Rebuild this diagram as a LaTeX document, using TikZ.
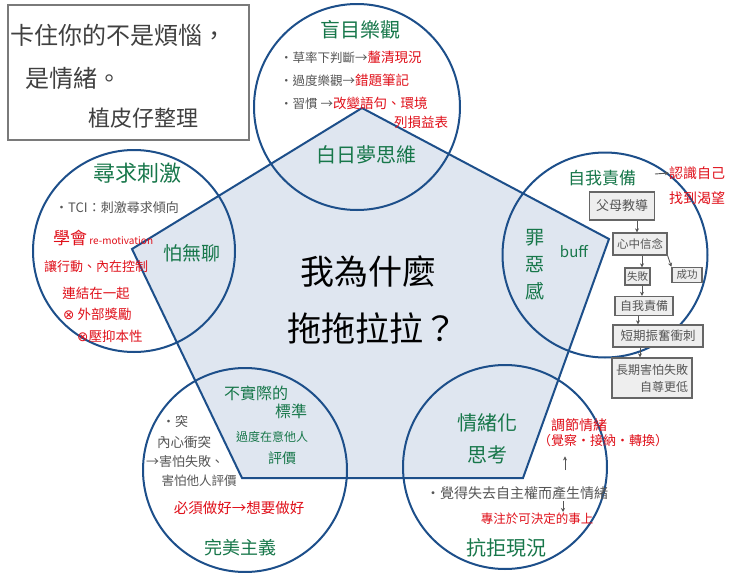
\documentclass[tikz,border=0pt]{standalone}
\usepackage{fontspec}
\setmainfont{Noto Sans CJK TC}
\newfontfamily\symf{DejaVu Sans}
\usetikzlibrary{arrows.meta}
\definecolor{bl}{HTML}{1D4F8A}
\definecolor{pfill}{HTML}{DFE6F0}
\definecolor{grn}{HTML}{17774A}
\definecolor{rd}{HTML}{E0101A}
\definecolor{gry}{HTML}{555555}
\definecolor{bxfill}{HTML}{EEEEEE}
\definecolor{bxline}{HTML}{666666}
\definecolor{frame}{HTML}{7A7A7A}
\newcommand{\myfs}[1]{\fontsize{#1}{#1}\selectfont}
\begin{document}
\begin{tikzpicture}[x=1pt,y=-1pt,
  ttl/.style={text=grn,inner sep=0pt},
  gt/.style={text=gry,inner sep=0pt},
  rt/.style={text=rd,inner sep=0pt},
  circ/.style={draw=bl,line width=2pt},
  bx/.style={draw=bxline,fill=bxfill,line width=1.3pt,text=gry,inner sep=0pt,align=center},
  arr/.style={draw=gry,line width=0.9pt,-{Stealth[length=4pt,width=4pt]}}
]
\fill[white] (0,0) rectangle (740,573);
\useasboundingbox (0,0) rectangle (740,573);

% quote box
\draw[frame,line width=1.5pt] (8,5) rectangle (249,140);
\node[anchor=west,inner sep=0pt,text=black!75] (q1) at (10,35) {\myfs{24}卡住你的不是煩惱，};
\node[anchor=west,inner sep=0pt,text=black!75] (q2) at (25,78) {\myfs{24}是情緒。};
\node[anchor=west,inner sep=0pt,text=black!75] (q3) at (88,118) {\myfs{22}植皮仔整理};

% pentagon
\coordinate (pt) at (362,108);
\coordinate (pr) at (609,239);
\coordinate (pbr) at (523,478);
\coordinate (pbl) at (242,478);
\coordinate (pl) at (132,249);
\filldraw[fill=pfill,draw=bl,line width=2pt,line join=miter] (pt) -- (pr) -- (pbr) -- (pbl) -- (pl) -- cycle;

% circles
\draw[circ] (357,107) circle (103);
\draw[circ] (134,251) circle (101);
\draw[circ] (605,255) circle (102.5);
\draw[circ] (245,470) circle (102);
\draw[circ] (505,467) circle (102);

% center
\node[inner sep=0pt,text=black] (c1) at (368,272) {\myfs{34}我為什麼};
\node[inner sep=0pt,text=black] (c2) at (372,328) {\myfs{34}拖拖拉拉？};

% top circle
\node[ttl] (t0) at (360,30) {\myfs{20}盲目樂觀};
\node[anchor=west,inner sep=0pt] (t1) at (280,57) {\myfs{12.5}\color{gry}‧草率下判斷→\myfs{13.5}\color{rd}釐清現況};
\node[anchor=west,inner sep=0pt] (t2) at (280,80) {\myfs{12.5}\color{gry}‧過度樂觀→\myfs{13.5}\color{rd}錯題筆記};
\node[anchor=west,inner sep=0pt] (t3) at (280,103) {\myfs{12.5}\color{gry}‧習慣 →\myfs{13.5}\color{rd}改變語句、環境};
\node[rt] (t4) at (421,122) {\myfs{13.5}列損益表};
\node[ttl] (t5) at (366,155) {\myfs{20}白日夢思維};

% left circle
\node[ttl] (l0) at (137,173) {\myfs{22}尋求刺激};
\node[gt,anchor=west] (l1) at (55,208) {\myfs{13}‧TCI：刺激尋求傾向};
\node[rt,anchor=west] (l2) at (53,238) {\myfs{17}學會\myfs{10} re-motivation};
\node[rt,anchor=west] (l3) at (44,267) {\myfs{13}讓行動、內在控制};
\node[rt] (l4) at (96,293) {\myfs{13.5}連結在一起};
\node[rt,anchor=west] (l5) at (63,314) {\myfs{13.5}{\symf ⊗} 外部獎勵};
\node[rt,anchor=west] (l6) at (77,336) {\myfs{13.5}{\symf ⊗}壓抑本性};
\node[ttl] (l7) at (192,253) {\myfs{19}怕無聊};

% right circle
\node[ttl] (r0) at (602,178) {\myfs{17}自我責備};
\node[rt] (rk1) at (697,173) {\myfs{14}認識自己};
\node[rt] (rk2) at (697,198) {\myfs{14}找到渴望};
\coordinate (ra) at (655,174);
\draw[arr] (ra) -- (rk1.west);
\node[ttl,align=center,font=\fontsize{19}{27}\selectfont] (r1) at (535,265) {罪\\惡\\感};
\node[ttl] (r2) at (574,252) {\myfs{15}buff};

\node[bx,minimum width=65pt,minimum height=28pt,font=\myfs{13}] (b1) at (622,206) {父母教導};
\node[bx,minimum width=54pt,minimum height=22pt,font=\myfs{11.5}] (b2) at (640,244) {心中信念};
\node[bx,minimum width=25pt,minimum height=17pt,font=\myfs{10.5}] (b3) at (637.5,276.5) {失敗};
\node[bx,minimum width=30pt,minimum height=15pt,font=\myfs{10.5}] (b4) at (687,275) {成功};
\node[bx,minimum width=58pt,minimum height=19pt,font=\myfs{12}] (b5) at (644,306) {自我責備};
\node[bx,minimum width=90pt,minimum height=22pt,font=\myfs{12.5}] (b6) at (658,336) {短期振奮衝刺};
\node[bx,minimum width=80pt,minimum height=40pt,align=right,font=\fontsize{12}{17}\selectfont] (b7) at (652,378) {長期害怕失敗\\自尊更低};
\coordinate (x12) at (637,0);
\coordinate (x23) at (642,0);
\coordinate (x35) at (642,0);
\coordinate (x56) at (638,0);
\coordinate (x67) at (640,0);
\draw[arr] (b1.south -| x12) -- (b2.north -| x12);
\draw[arr] (b2.south -| x23) -- (b3.north -| x23);
\draw[arr] (b2.south east) -- (b4.north west);
\draw[arr] (b3.south -| x35) -- (b5.north -| x35);
\draw[arr] (b5.south -| x56) -- (b6.north -| x56);
\draw[arr] (b6.south -| x67) -- (b7.north -| x67);

% bottom-left circle
\node[ttl] (p1) at (256,393) {\myfs{16}不實際的};
\node[ttl] (p2) at (291,411) {\myfs{16}標準};
\node[ttl] (p3) at (272,437) {\myfs{12}過度在意他人};
\node[ttl] (p4) at (282,458) {\myfs{14}評價};
\node[gt] (p5) at (175,422) {\myfs{13}‧突};
\node[gt] (p6) at (184,442) {\myfs{13.5}內心衝突};
\node[gt] (p7) at (185,462) {\myfs{13}→害怕失敗、};
\node[gt] (p8) at (199,481) {\myfs{12.5}害怕他人評價};
\node[rt] (p9) at (239,508) {\myfs{14.5}必須做好→想要做好};
\node[ttl] (p10) at (240,548) {\myfs{18}完美主義};

% bottom-right circle
\node[ttl] (e1) at (487,423) {\myfs{20}情緒化};
\node[ttl] (e2) at (487,455) {\myfs{20}思考};
\node[rt] (e3) at (579,425) {\myfs{14}調節情緒};
\node[rt] (e4) at (603,441) {\myfs{13}（覺察‧接納‧轉換）};
\node[gt] (e5) at (517,493) {\myfs{14}‧覺得失去自主權而產生情緒};
\node[rt] (e6) at (537,519) {\myfs{12.5}專注於可決定的事上};
\node[ttl] (e7) at (506,548) {\myfs{20}抗拒現況};
\coordinate (xu) at (565,0);
\coordinate (xd) at (563,0);
\draw[arr,shorten <=16pt,shorten >=9pt] (e5.north -| xu) -- (e4.south -| xu);
\draw[arr,shorten <=1pt,shorten >=1pt] (e5.south -| xd) -- (e6.north -| xd);
\end{tikzpicture}
\end{document}
